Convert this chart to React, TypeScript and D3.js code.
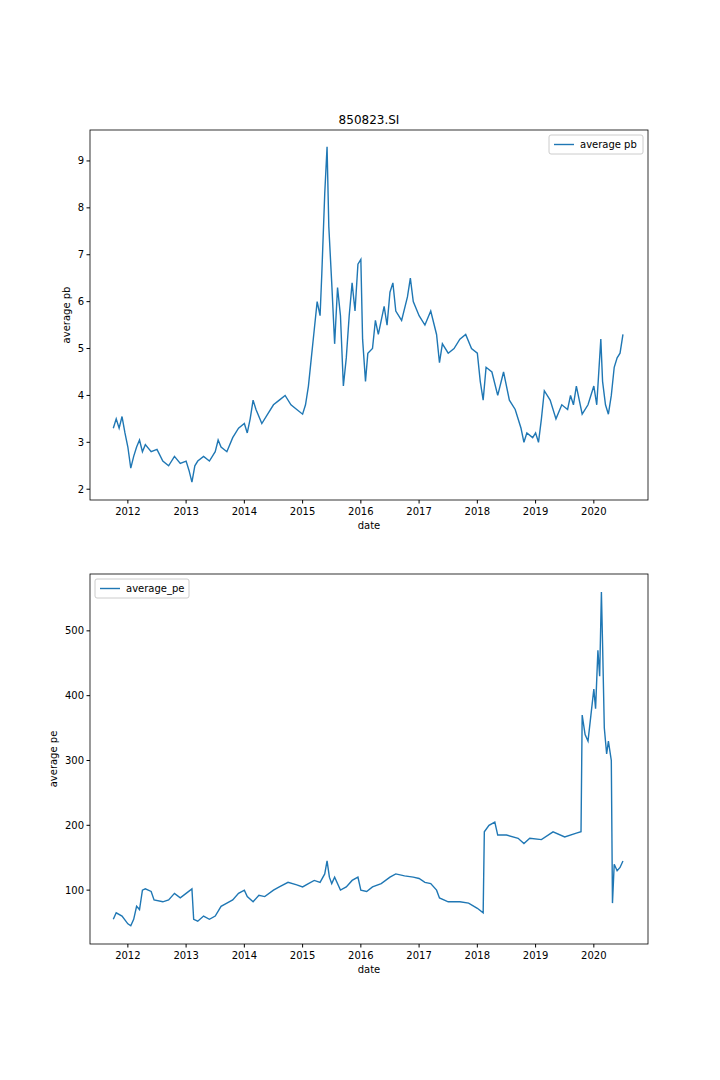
import * as React from "react";
import * as d3 from "d3";

// fractional years and values
const pbDates = [2011.75,2011.8,2011.85,2011.9,2011.95,2012.0,2012.05,2012.1,2012.15,2012.2,2012.25,2012.3,2012.4,2012.5,2012.6,2012.7,2012.8,2012.9,2013.0,2013.05,2013.1,2013.15,2013.2,2013.3,2013.4,2013.5,2013.55,2013.6,2013.7,2013.8,2013.9,2014.0,2014.05,2014.1,2014.15,2014.2,2014.3,2014.4,2014.5,2014.6,2014.7,2014.8,2014.9,2015.0,2015.05,2015.1,2015.15,2015.2,2015.25,2015.3,2015.33,2015.38,2015.42,2015.45,2015.5,2015.55,2015.6,2015.65,2015.7,2015.75,2015.8,2015.85,2015.9,2015.95,2016.0,2016.03,2016.08,2016.12,2016.2,2016.25,2016.3,2016.4,2016.45,2016.5,2016.55,2016.6,2016.7,2016.8,2016.85,2016.9,2017.0,2017.1,2017.2,2017.3,2017.35,2017.4,2017.5,2017.6,2017.7,2017.8,2017.9,2018.0,2018.05,2018.1,2018.15,2018.25,2018.35,2018.45,2018.55,2018.65,2018.75,2018.8,2018.85,2018.95,2019.0,2019.05,2019.1,2019.15,2019.25,2019.35,2019.45,2019.55,2019.6,2019.65,2019.7,2019.8,2019.9,2020.0,2020.05,2020.12,2020.15,2020.2,2020.25,2020.3,2020.35,2020.4,2020.45,2020.5];
const pbValues = [3.3,3.5,3.3,3.55,3.2,2.9,2.45,2.7,2.9,3.05,2.8,2.95,2.8,2.85,2.6,2.5,2.7,2.55,2.6,2.4,2.15,2.5,2.6,2.7,2.6,2.8,3.05,2.9,2.8,3.1,3.3,3.4,3.2,3.5,3.9,3.7,3.4,3.6,3.8,3.9,4.0,3.8,3.7,3.6,3.8,4.2,4.8,5.4,6.0,5.7,6.6,8.3,9.3,7.6,6.4,5.1,6.3,5.7,4.2,4.8,5.7,6.4,5.8,6.8,6.9,5.2,4.3,4.9,5.0,5.6,5.3,5.9,5.5,6.2,6.4,5.8,5.6,6.1,6.5,6.0,5.7,5.5,5.8,5.3,4.7,5.1,4.9,5.0,5.2,5.3,5.0,4.9,4.3,3.9,4.6,4.5,4.0,4.5,3.9,3.7,3.3,3.0,3.2,3.1,3.2,3.0,3.5,4.1,3.9,3.5,3.8,3.7,4.0,3.8,4.2,3.6,3.8,4.2,3.8,5.2,4.3,3.8,3.6,4.0,4.6,4.8,4.9,5.3];

const peDates = [2011.75,2011.8,2011.9,2012.0,2012.05,2012.1,2012.15,2012.2,2012.25,2012.3,2012.4,2012.45,2012.6,2012.7,2012.8,2012.9,2013.0,2013.1,2013.13,2013.2,2013.3,2013.4,2013.5,2013.6,2013.7,2013.8,2013.9,2014.0,2014.05,2014.15,2014.25,2014.35,2014.5,2014.6,2014.75,2014.9,2015.0,2015.1,2015.2,2015.3,2015.38,2015.42,2015.46,2015.5,2015.55,2015.65,2015.75,2015.85,2015.95,2016.0,2016.1,2016.2,2016.35,2016.5,2016.6,2016.75,2016.9,2017.0,2017.1,2017.2,2017.3,2017.35,2017.5,2017.7,2017.85,2018.0,2018.1,2018.12,2018.2,2018.3,2018.35,2018.5,2018.7,2018.8,2018.9,2019.1,2019.3,2019.5,2019.7,2019.78,2019.8,2019.85,2019.9,2019.95,2020.0,2020.03,2020.07,2020.1,2020.13,2020.15,2020.18,2020.22,2020.25,2020.3,2020.32,2020.35,2020.4,2020.45,2020.5];
const peValues = [55,65,60,48,45,55,75,70,100,102,98,85,82,85,95,88,95,102,55,52,60,55,60,75,80,85,95,100,90,82,92,90,100,105,112,108,105,110,115,112,125,145,120,110,120,100,105,115,120,100,98,105,110,120,125,122,120,118,112,110,100,88,82,82,80,72,65,190,200,205,185,185,180,172,180,178,190,182,188,190,370,340,330,370,410,380,470,430,560,480,350,310,330,300,80,140,130,135,145];

const yearTicks = [2012,2013,2014,2015,2016,2017,2018,2019,2020];

const Panel = ({ top, dates, values, yDomain, yTicks, yLabel, labelOffset, legend, legendRight, title }: any) => {
  const left = 90, right = 648, height = 370;
  const x = d3.scaleLinear().domain([2011.35, 2020.93]).range([left, right]);
  const y = d3.scaleLinear().domain(yDomain).range([top + height, top]);
  const line = d3.line<number>().x((_, i) => x(dates[i])).y(d => y(d));
  const lw = legend.length * 5.8 + 36;
  const lx = legendRight ? right - 5 - lw : left + 5;
  return (
    <g fontFamily="DejaVu Sans" fontSize={10}>
      {title && <text x={(left + right) / 2} y={top - 6} textAnchor="middle" fontSize={12}>{title}</text>}
      <path d={line(values) || ""} fill="none" stroke="#1f77b4" strokeWidth={1.4} />
      <rect x={left} y={top} width={right - left} height={height} fill="none" stroke="black" strokeWidth={0.8} />
      {yearTicks.map(t => (
        <g key={t}>
          <line x1={x(t)} x2={x(t)} y1={top + height} y2={top + height + 3.5} stroke="black" />
          <text x={x(t)} y={top + height + 15} textAnchor="middle">{t}</text>
        </g>
      ))}
      {yTicks.map((t: number) => (
        <g key={t}>
          <line x1={left - 3.5} x2={left} y1={y(t)} y2={y(t)} stroke="black" />
          <text x={left - 6} y={y(t) + 3.5} textAnchor="end">{t}</text>
        </g>
      ))}
      <text x={(left + right) / 2} y={top + height + 29} textAnchor="middle">date</text>
      <text transform={`translate(${left - labelOffset},${top + height / 2}) rotate(-90)`} textAnchor="middle">{yLabel}</text>
      <rect x={lx} y={top + 5} width={lw} height={19} fill="white" stroke="#ccc" rx={2} />
      <line x1={lx + 5} x2={lx + 25} y1={top + 14.5} y2={top + 14.5} stroke="#1f77b4" strokeWidth={1.4} />
      <text x={lx + 31} y={top + 18}>{legend}</text>
    </g>
  );
};

export default function App() {
  return (
    <svg width={720} height={1080} style={{ position: "absolute", left: 0, top: 0, background: "white" }}>
      <Panel top={130} dates={pbDates} values={pbValues} yDomain={[1.77, 9.66]} yTicks={[2,3,4,5,6,7,8,9]}
        yLabel="average pb" labelOffset={20} legend="average pb" legendRight title="850823.SI" />
      <Panel top={574} dates={peDates} values={peValues} yDomain={[16.9, 587.7]} yTicks={[100,200,300,400,500]}
        yLabel="average pe" labelOffset={33} legend="average_pe" legendRight={false} />
    </svg>
  );
}
